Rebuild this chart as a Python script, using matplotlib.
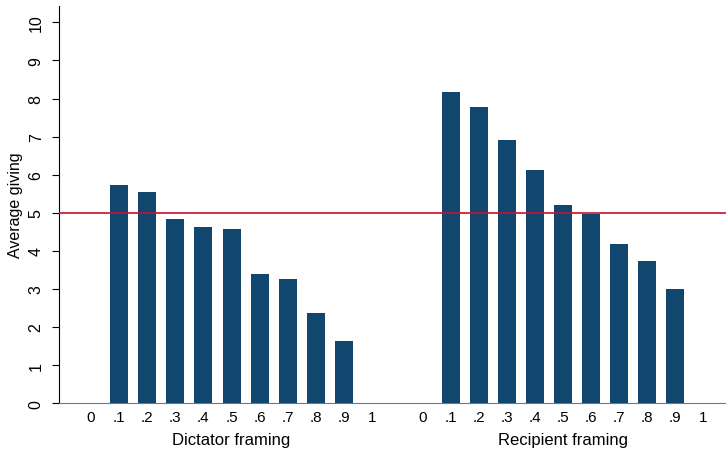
import numpy as np
import matplotlib
matplotlib.use("Agg")
import matplotlib.pyplot as plt

plt.rcParams['font.family'] = ['Liberation Sans', 'DejaVu Sans']

# shares (x labels) and average giving per framing
share_labels = ["0", ".1", ".2", ".3", ".4", ".5", ".6", ".7", ".8", ".9", "1"]
dictator_giving = [5.73, 5.55, 4.83, 4.63, 4.57, 3.39, 3.26, 2.36, 1.63]
recipient_giving = [8.17, 7.78, 6.91, 6.12, 5.20, 4.98, 4.17, 3.73, 3.00]
group_names = ["Dictator framing", "Recipient framing"]
reference_line = 5

bar_color = "#11466e"
line_color = "#c8102e"

fig = plt.figure(figsize=(7.26, 4.56), dpi=100)
ax = fig.add_axes([59 / 726, 51.7 / 456, 1 - 59 / 726, 397.3 / 456])

offset = 11.8
slots = np.arange(len(share_labels))
bar_x = slots[1:-1]

ax.bar(bar_x, dictator_giving, width=0.64, color=bar_color)
ax.bar(bar_x + offset, recipient_giving, width=0.64, color=bar_color)

ax.axhline(reference_line, color=line_color, lw=1.2, zorder=3)

ax.set_xlim(-1.14, 22.6)
ax.set_ylim(0, 10.43)

ax.set_xticks(np.concatenate([slots, slots + offset]))
ax.set_xticklabels(share_labels * 2, fontsize=11)
ax.tick_params(axis='x', length=0, pad=5)

ax.set_yticks(range(0, 11))
ax.set_yticklabels([str(v) for v in range(0, 11)], rotation=90, va='center', fontsize=11.5)
ax.tick_params(axis='y', length=5, width=0.8, pad=6)
ax.set_ylabel("Average giving", fontsize=11.5, labelpad=4)

for i, name in enumerate(group_names):
    ax.text(5 + i * offset, -0.95, name, ha='center', va='center', fontsize=12)

ax.spines['top'].set_visible(False)
ax.spines['right'].set_visible(False)
ax.spines['bottom'].set_color('#777777')
ax.spines['left'].set_linewidth(0.8)

fig.savefig("out.png", dpi=100)
